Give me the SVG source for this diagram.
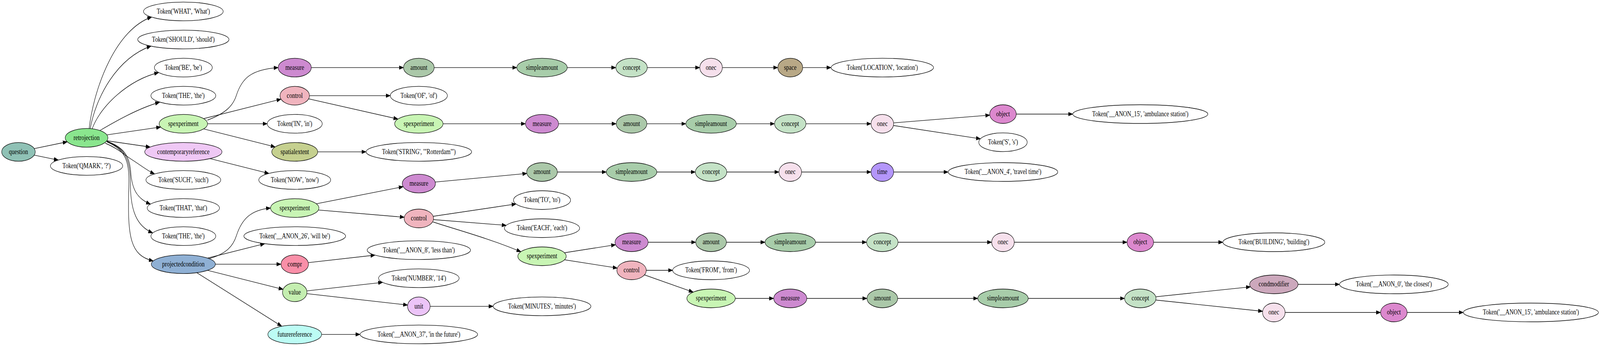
<svg xmlns="http://www.w3.org/2000/svg" width="5092" height="887" viewBox="0 0 5092 887" preserveAspectRatio="none">
<defs>
<marker id="ah" markerUnits="userSpaceOnUse" markerWidth="16" markerHeight="12" viewBox="0 0 16 12" refX="14" refY="6" orient="auto">
<path d="M0.5,1.3 L14,6 L0.5,10.7 Z" fill="#000" stroke="#000" stroke-width="1"/>
</marker>
</defs>
<style>
svg { width: 100vw; height: 100vh; display: block; }
#edges path { fill: none; stroke: #000; stroke-width: 1.33; marker-end: url(#ah); }
.node ellipse { stroke: #000; stroke-width: 1.33; fill: #fff; }
.node text { font-family: "Liberation Serif", "Times New Roman", serif; font-size: 18px; text-anchor: middle; fill: #000; }
.c-question { fill: #8fc1b5 !important; }
.c-retro { fill: #8ae68e !important; }
.c-spexp { fill: #c8f5b4 !important; }
.c-contemp { fill: #efc8f5 !important; }
.c-projcond { fill: #8fb0d4 !important; }
.c-measure { fill: #cd8ad0 !important; }
.c-control { fill: #f0b4be !important; }
.c-spatial { fill: #c5d08f !important; }
.c-compr { fill: #f98fa8 !important; }
.c-value { fill: #c4eeb0 !important; }
.c-future { fill: #bcfcf4 !important; }
.c-amount { fill: #abc8a9 !important; }
.c-simple { fill: #a8cdaa !important; }
.c-concept { fill: #c4e2c6 !important; }
.c-onec { fill: #f6e0ec !important; }
.c-space { fill: #b8a886 !important; }
.c-unit { fill: #ecc4f8 !important; }
.c-time { fill: #b496fa !important; }
.c-object { fill: #dc88ce !important; }
.c-condmod { fill: #cca8bc !important; }
</style>
<rect x="0" y="0" width="5092" height="887" fill="#fff"/>
<g id="edges">
<path d="M58.8,389.3 L214,363.5"/>
<path d="M58.8,389.3 L185.5,410.35"/>
<path d="M283.5,330 C300,220 370,75 483,43.5"/>
<path d="M287,330 C305,250 370,150 481,118"/>
<path d="M293,331 C320,270 410,205 505,186"/>
<path d="M317,335 C370,310 440,278 508,262"/>
<path d="M275.5,353.3 L511.4,325.7"/>
<path d="M275.5,353.3 L478,377"/>
<path d="M335,367 C375,380 400,400 425,412 C450,425 470,438 492,446"/>
<path d="M340,362 C395,378 412,400 416,440 C420,490 440,510 479,523.5"/>
<path d="M340,363 C400,380 415,410 415,470 C415,540 435,580 486,597"/>
<path d="M341,364 C405,385 412,420 410,480 C405,610 415,655 488,669"/>
<path d="M660,308 C720,290 742,270 752,245 C770,200 800,178 885.2,173.3"/>
<path d="M583.5,317.3 L894.4,254.2"/>
<path d="M583.5,317.3 L850.5,317.3"/>
<path d="M583.5,317.3 L875.8,376.7"/>
<path d="M583.5,389.3 L855.8,444.6"/>
<path d="M666,663 C722,650 742,630 752,605 C770,560 800,538 861,533.3"/>
<path d="M583.5,677.3 L842.5,624.7"/>
<path d="M583.5,677.3 L894.3,677.3"/>
<path d="M583.5,677.3 L901,741.8"/>
<path d="M583.5,677.3 L896.6,836.3"/>
<path d="M938,173.3 L1284.1,173.3"/>
<path d="M938,245.3 L1242.2,245.3"/>
<path d="M938,245.3 L1266.5,305.2"/>
<path d="M938,389.3 L1165,389.3"/>
<path d="M938,533.3 L1283.1,478.6"/>
<path d="M938,533.3 L1286.5,556.9"/>
<path d="M938,677.3 L1193.5,654"/>
<path d="M938,749.3 L1217.7,723.8"/>
<path d="M938,749.3 L1297.3,782"/>
<path d="M938,857.3 L1145.9,857.3"/>
<path d="M1333,173.3 L1644.7,173.3"/>
<path d="M1333,317.3 L1672.2,317.3"/>
<path d="M1333,470.7 L1676.7,444.7"/>
<path d="M1333,560 L1642.3,522.9"/>
<path d="M1333,560 L1611,577.7"/>
<path d="M1378,569 C1450,588 1560,612 1658,645.5"/>
<path d="M1333,785.3 L1569.4,785.3"/>
<path d="M1725,173.3 L1959.9,173.3"/>
<path d="M1725,317.3 L1961.1,317.3"/>
<path d="M1725,441 L1929.7,441"/>
<path d="M1725,657 L1959.1,627.4"/>
<path d="M1725,657 L1964.5,687.2"/>
<path d="M2010,173.3 L2227,173.3"/>
<path d="M2010,317.3 L2182.7,317.3"/>
<path d="M2010,441 L2212.9,441"/>
<path d="M2010,621 L2214.1,621"/>
<path d="M2010,693 L2140.7,693"/>
<path d="M2010,693 L2206.1,748.8"/>
<path d="M2263,173.3 L2475.3,173.3"/>
<path d="M2263,317.3 L2464.9,317.3"/>
<path d="M2263,441 L2479,441"/>
<path d="M2263,621 L2434.7,621"/>
<path d="M2263,765 L2462.2,765"/>
<path d="M2515,173.3 L2645,173.3"/>
<path d="M2515,317.3 L2772,317.3"/>
<path d="M2515,441 L2772,441"/>
<path d="M2515,621 L2757.9,621"/>
<path d="M2515,765 L2759.1,765"/>
<path d="M2808,317.3 L3150,295.2"/>
<path d="M2808,317.3 L3120.4,355.9"/>
<path d="M2808,441 L3017.6,441"/>
<path d="M2808,621 L3156,621"/>
<path d="M2808,765 L3111.7,765"/>
<path d="M3192,292.5 L3414,292.5"/>
<path d="M3192,621 L3586.7,621"/>
<path d="M3192,765 L3578.9,765"/>
<path d="M3629,621 L3891.8,621"/>
<path d="M3629,765 L3979.7,735.3"/>
<path d="M3629,765 L4018.3,798"/>
<path d="M4054,729 L4263,729"/>
<path d="M4054,801 L4393.7,801"/>
<path d="M4436,801 L4657,801"/>
</g>
<g id="n_question" class="node"><ellipse cx="58.8" cy="389.3" rx="53.5" ry="24" class="c-question"/><text x="58.8" y="394.8">question</text></g>
<g id="n_retrojection" class="node"><ellipse cx="275.5" cy="353.3" rx="67.9" ry="24" class="c-retro"/><text x="275.5" y="358.8">retrojection</text></g>
<g id="n_qmark" class="node"><ellipse cx="275.5" cy="425.3" rx="115" ry="24"/><text x="275.5" y="430.8">Token('QMARK', '?')</text></g>
<g id="n_what" class="node"><ellipse cx="583.5" cy="29.3" rx="126.8" ry="24"/><text x="583.5" y="34.8">Token('WHAT', 'What')</text></g>
<g id="n_should" class="node"><ellipse cx="583.5" cy="101.3" rx="145.2" ry="24"/><text x="583.5" y="106.8">Token('SHOULD', 'should')</text></g>
<g id="n_be" class="node"><ellipse cx="583.5" cy="173.3" rx="92.1" ry="24"/><text x="583.5" y="178.8">Token('BE', 'be')</text></g>
<g id="n_the1" class="node"><ellipse cx="583.5" cy="245.3" rx="103.2" ry="24"/><text x="583.5" y="250.8">Token('THE', 'the')</text></g>
<g id="n_spexp1" class="node"><ellipse cx="583.5" cy="317.3" rx="77" ry="24" class="c-spexp"/><text x="583.5" y="322.8">spexperiment</text></g>
<g id="n_contemp" class="node"><ellipse cx="583.5" cy="389.3" rx="122.9" ry="24" class="c-contemp"/><text x="583.5" y="394.8">contemporaryreference</text></g>
<g id="n_such" class="node"><ellipse cx="583.5" cy="461.3" rx="119" ry="24"/><text x="583.5" y="466.8">Token('SUCH', 'such')</text></g>
<g id="n_that" class="node"><ellipse cx="583.5" cy="533.3" rx="115" ry="24"/><text x="583.5" y="538.8">Token('THAT', 'that')</text></g>
<g id="n_the2" class="node"><ellipse cx="583.5" cy="605.3" rx="103.2" ry="24"/><text x="583.5" y="610.8">Token('THE', 'the')</text></g>
<g id="n_projcond" class="node"><ellipse cx="583.5" cy="677.3" rx="102" ry="24" class="c-projcond"/><text x="583.5" y="682.8">projectedcondition</text></g>
<g id="n_measure1" class="node"><ellipse cx="938" cy="173.3" rx="52.8" ry="24" class="c-measure"/><text x="938" y="178.8">measure</text></g>
<g id="n_control1" class="node"><ellipse cx="938" cy="245.3" rx="46.9" ry="24" class="c-control"/><text x="938" y="250.8">control</text></g>
<g id="n_in" class="node"><ellipse cx="938" cy="317.3" rx="87.5" ry="24"/><text x="938" y="322.8">Token('IN', 'in')</text></g>
<g id="n_spatialextent" class="node"><ellipse cx="938" cy="389.3" rx="73.1" ry="24" class="c-spatial"/><text x="938" y="394.8">spatialextent</text></g>
<g id="n_now" class="node"><ellipse cx="938" cy="461.3" rx="114.4" ry="24"/><text x="938" y="466.8">Token('NOW', 'now')</text></g>
<g id="n_spexp2" class="node"><ellipse cx="938" cy="533.3" rx="77" ry="24" class="c-spexp"/><text x="938" y="538.8">spexperiment</text></g>
<g id="n_anon26" class="node"><ellipse cx="938" cy="605.3" rx="161.9" ry="24"/><text x="938" y="610.8">Token('__ANON_26', 'will be')</text></g>
<g id="n_compr" class="node"><ellipse cx="938" cy="677.3" rx="43.7" ry="24" class="c-compr"/><text x="938" y="682.8">compr</text></g>
<g id="n_value" class="node"><ellipse cx="938" cy="749.3" rx="39" ry="24" class="c-value"/><text x="938" y="754.8">value</text></g>
<g id="n_futureref" class="node"><ellipse cx="938" cy="857.3" rx="85.5" ry="24" class="c-future"/><text x="938" y="862.8">futurereference</text></g>
<g id="n_amount1" class="node"><ellipse cx="1333" cy="173.3" rx="48.9" ry="24" class="c-amount"/><text x="1333" y="178.8">amount</text></g>
<g id="n_of" class="node"><ellipse cx="1333" cy="245.3" rx="90.8" ry="24"/><text x="1333" y="250.8">Token('OF', 'of')</text></g>
<g id="n_spexp3" class="node"><ellipse cx="1333" cy="317.3" rx="77" ry="24" class="c-spexp"/><text x="1333" y="322.8">spexperiment</text></g>
<g id="n_string" class="node"><ellipse cx="1333" cy="389.3" rx="168" ry="24"/><text x="1333" y="394.8">Token('STRING', '"Rotterdam"')</text></g>
<g id="n_measure2" class="node"><ellipse cx="1333" cy="470.7" rx="52.8" ry="24" class="c-measure"/><text x="1333" y="476.2">measure</text></g>
<g id="n_control2" class="node"><ellipse cx="1333" cy="560" rx="46.9" ry="24" class="c-control"/><text x="1333" y="565.5">control</text></g>
<g id="n_anon8" class="node"><ellipse cx="1333" cy="641.3" rx="164.5" ry="24"/><text x="1333" y="646.8">Token('__ANON_8', 'less than')</text></g>
<g id="n_number" class="node"><ellipse cx="1333" cy="713.3" rx="128.2" ry="24"/><text x="1333" y="718.8">Token('NUMBER', '14')</text></g>
<g id="n_unit" class="node"><ellipse cx="1333" cy="785.3" rx="36" ry="24" class="c-unit"/><text x="1333" y="790.8">unit</text></g>
<g id="n_anon37" class="node"><ellipse cx="1333" cy="857.3" rx="187.1" ry="24"/><text x="1333" y="862.8">Token('__ANON_37', 'in the future')</text></g>
<g id="n_simpleamount1" class="node"><ellipse cx="1725" cy="173.3" rx="80.3" ry="24" class="c-simple"/><text x="1725" y="178.8">simpleamount</text></g>
<g id="n_measure_b" class="node"><ellipse cx="1725" cy="317.3" rx="52.8" ry="24" class="c-measure"/><text x="1725" y="322.8">measure</text></g>
<g id="n_amountA" class="node"><ellipse cx="1725" cy="441" rx="48.9" ry="24" class="c-amount"/><text x="1725" y="446.5">amount</text></g>
<g id="n_to" class="node"><ellipse cx="1725" cy="513" rx="90.8" ry="24"/><text x="1725" y="518.5">Token('TO', 'to')</text></g>
<g id="n_each" class="node"><ellipse cx="1725" cy="585" rx="119.6" ry="24"/><text x="1725" y="590.5">Token('EACH', 'each')</text></g>
<g id="n_spexp4" class="node"><ellipse cx="1725" cy="657" rx="77" ry="24" class="c-spexp"/><text x="1725" y="662.5">spexperiment</text></g>
<g id="n_minutes" class="node"><ellipse cx="1725" cy="785.3" rx="155.6" ry="24"/><text x="1725" y="790.8">Token('MINUTES', 'minutes')</text></g>
<g id="n_concept1" class="node"><ellipse cx="2010" cy="173.3" rx="50.1" ry="24" class="c-concept"/><text x="2010" y="178.8">concept</text></g>
<g id="n_amount_b" class="node"><ellipse cx="2010" cy="317.3" rx="48.9" ry="24" class="c-amount"/><text x="2010" y="322.8">amount</text></g>
<g id="n_simpleamountA" class="node"><ellipse cx="2010" cy="441" rx="80.3" ry="24" class="c-simple"/><text x="2010" y="446.5">simpleamount</text></g>
<g id="n_measure3" class="node"><ellipse cx="2010" cy="621" rx="52.8" ry="24" class="c-measure"/><text x="2010" y="626.5">measure</text></g>
<g id="n_control3" class="node"><ellipse cx="2010" cy="693" rx="46.9" ry="24" class="c-control"/><text x="2010" y="698.5">control</text></g>
<g id="n_onec1" class="node"><ellipse cx="2263" cy="173.3" rx="36" ry="24" class="c-onec"/><text x="2263" y="178.8">onec</text></g>
<g id="n_simpleamount_b" class="node"><ellipse cx="2263" cy="317.3" rx="80.3" ry="24" class="c-simple"/><text x="2263" y="322.8">simpleamount</text></g>
<g id="n_conceptA" class="node"><ellipse cx="2263" cy="441" rx="50.1" ry="24" class="c-concept"/><text x="2263" y="446.5">concept</text></g>
<g id="n_amountB" class="node"><ellipse cx="2263" cy="621" rx="48.9" ry="24" class="c-amount"/><text x="2263" y="626.5">amount</text></g>
<g id="n_from" class="node"><ellipse cx="2263" cy="693" rx="122.3" ry="24"/><text x="2263" y="698.5">Token('FROM', 'from')</text></g>
<g id="n_spexp5" class="node"><ellipse cx="2263" cy="765" rx="77" ry="24" class="c-spexp"/><text x="2263" y="770.5">spexperiment</text></g>
<g id="n_space" class="node"><ellipse cx="2515" cy="173.3" rx="39.7" ry="24" class="c-space"/><text x="2515" y="178.8">space</text></g>
<g id="n_concept_b" class="node"><ellipse cx="2515" cy="317.3" rx="50.1" ry="24" class="c-concept"/><text x="2515" y="322.8">concept</text></g>
<g id="n_onecA" class="node"><ellipse cx="2515" cy="441" rx="36" ry="24" class="c-onec"/><text x="2515" y="446.5">onec</text></g>
<g id="n_simpleamountB" class="node"><ellipse cx="2515" cy="621" rx="80.3" ry="24" class="c-simple"/><text x="2515" y="626.5">simpleamount</text></g>
<g id="n_measure4" class="node"><ellipse cx="2515" cy="765" rx="52.8" ry="24" class="c-measure"/><text x="2515" y="770.5">measure</text></g>
<g id="n_location" class="node"><ellipse cx="2808" cy="173.3" rx="163" ry="24"/><text x="2808" y="178.8">Token('LOCATION', 'location')</text></g>
<g id="n_onec_b" class="node"><ellipse cx="2808" cy="317.3" rx="36" ry="24" class="c-onec"/><text x="2808" y="322.8">onec</text></g>
<g id="n_time" class="node"><ellipse cx="2808" cy="441" rx="36" ry="24" class="c-time"/><text x="2808" y="446.5">time</text></g>
<g id="n_conceptB" class="node"><ellipse cx="2808" cy="621" rx="50.1" ry="24" class="c-concept"/><text x="2808" y="626.5">concept</text></g>
<g id="n_amountC" class="node"><ellipse cx="2808" cy="765" rx="48.9" ry="24" class="c-amount"/><text x="2808" y="770.5">amount</text></g>
<g id="n_object_b" class="node"><ellipse cx="3192" cy="292.5" rx="42.3" ry="24" class="c-object"/><text x="3192" y="298">object</text></g>
<g id="n_s" class="node"><ellipse cx="3192" cy="364.7" rx="77" ry="24"/><text x="3192" y="370.2">Token('S', 's')</text></g>
<g id="n_anon4" class="node"><ellipse cx="3192" cy="441" rx="174.4" ry="24"/><text x="3192" y="446.5">Token('__ANON_4', 'travel time')</text></g>
<g id="n_onecB" class="node"><ellipse cx="3192" cy="621" rx="36" ry="24" class="c-onec"/><text x="3192" y="626.5">onec</text></g>
<g id="n_simpleamountC" class="node"><ellipse cx="3192" cy="765" rx="80.3" ry="24" class="c-simple"/><text x="3192" y="770.5">simpleamount</text></g>
<g id="n_anon15a" class="node"><ellipse cx="3629" cy="292.5" rx="215" ry="24"/><text x="3629" y="298">Token('__ANON_15', 'ambulance station')</text></g>
<g id="n_objectB" class="node"><ellipse cx="3629" cy="621" rx="42.3" ry="24" class="c-object"/><text x="3629" y="626.5">object</text></g>
<g id="n_conceptC" class="node"><ellipse cx="3629" cy="765" rx="50.1" ry="24" class="c-concept"/><text x="3629" y="770.5">concept</text></g>
<g id="n_building" class="node"><ellipse cx="4054" cy="621" rx="162.2" ry="24"/><text x="4054" y="626.5">Token('BUILDING', 'building')</text></g>
<g id="n_condmodifier" class="node"><ellipse cx="4054" cy="729" rx="77" ry="24" class="c-condmod"/><text x="4054" y="734.5">condmodifier</text></g>
<g id="n_onecC" class="node"><ellipse cx="4054" cy="801" rx="36" ry="24" class="c-onec"/><text x="4054" y="806.5">onec</text></g>
<g id="n_anon0" class="node"><ellipse cx="4436" cy="729" rx="173" ry="24"/><text x="4436" y="734.5">Token('__ANON_0', 'the closest')</text></g>
<g id="n_objectC" class="node"><ellipse cx="4436" cy="801" rx="42.3" ry="24" class="c-object"/><text x="4436" y="806.5">object</text></g>
<g id="n_anon15b" class="node"><ellipse cx="4872" cy="801" rx="215" ry="24"/><text x="4872" y="806.5">Token('__ANON_15', 'ambulance station')</text></g>
</svg>
